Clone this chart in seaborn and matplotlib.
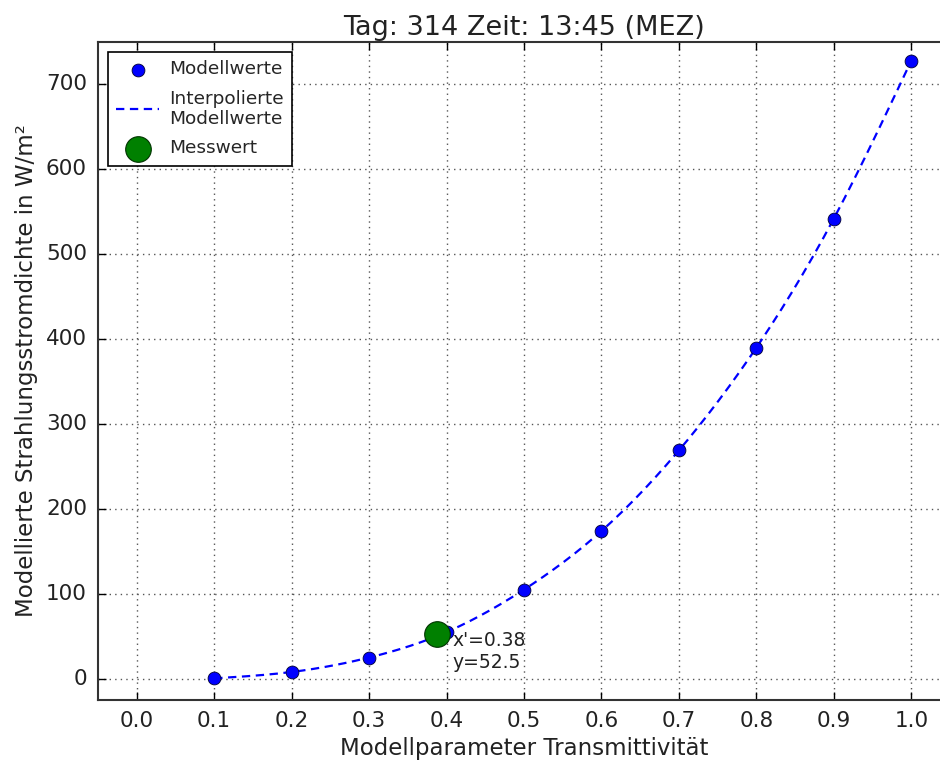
import numpy as np
import pandas as pd
import matplotlib
matplotlib.use("Agg")
import matplotlib.pyplot as plt
import seaborn as sns

# Data
transmittivity = [0.1, 0.2, 0.3, 0.4, 0.5, 0.6, 0.7, 0.8, 0.9, 1.0]
irradiance = [0.5, 8, 25, 55, 105, 174, 269, 390, 542, 728]
meas_x = [0.3875]
meas_y = [52.5]
annot_text = "x'=0.38\ny=52.5"
title = "Tag: 314 Zeit: 13:45 (MEZ)"
xlabel = "Modellparameter Transmittivität"
ylabel = "Modellierte Strahlungsstromdichte in W/m²"
xticks = [0.0, 0.1, 0.2, 0.3, 0.4, 0.5, 0.6, 0.7, 0.8, 0.9, 1.0]
yticks = [0, 100, 200, 300, 400, 500, 600, 700]


def natural_cubic_spline(x, y, xs):
    x = np.asarray(x, float); y = np.asarray(y, float)
    n = len(x)
    h = np.diff(x)
    A = np.zeros((n, n)); b = np.zeros(n)
    A[0, 0] = 1; A[-1, -1] = 1
    for i in range(1, n - 1):
        A[i, i - 1] = h[i - 1]
        A[i, i] = 2 * (h[i - 1] + h[i])
        A[i, i + 1] = h[i]
        b[i] = 3 * ((y[i + 1] - y[i]) / h[i] - (y[i] - y[i - 1]) / h[i - 1])
    c = np.linalg.solve(A, b)
    bb = np.zeros(n - 1); d = np.zeros(n - 1)
    for i in range(n - 1):
        bb[i] = (y[i + 1] - y[i]) / h[i] - h[i] * (2 * c[i] + c[i + 1]) / 3
        d[i] = (c[i + 1] - c[i]) / (3 * h[i])
    idx = np.clip(np.searchsorted(x, xs) - 1, 0, n - 2)
    dx = xs - x[idx]
    return y[idx] + bb[idx] * dx + c[idx] * dx ** 2 + d[idx] * dx ** 3


plt.style.use("classic")
sns.set_style("ticks", {"xtick.direction": "in", "ytick.direction": "in"})
plt.rcParams["font.family"] = ["DejaVu Sans"]

fig = plt.figure(figsize=(9.4, 7.65), dpi=100)
ax = fig.add_axes([98 / 940, 65 / 765, 852 / 940, 658 / 765])

xs = np.linspace(transmittivity[0], transmittivity[-1], 200)
ys = natural_cubic_spline(transmittivity, irradiance, xs)
df_pts = pd.DataFrame({"x": transmittivity, "y": irradiance})
df_line = pd.DataFrame({"x": xs, "y": ys})
df_meas = pd.DataFrame({"x": meas_x, "y": meas_y})

sns.scatterplot(data=df_pts, x="x", y="y", ax=ax, color="blue", s=85,
                edgecolor="#000033", linewidth=0.6, label="Modellwerte", zorder=3)
sns.lineplot(data=df_line, x="x", y="y", ax=ax, color="blue", linestyle="--",
             dashes=False, linewidth=1.6, label="Interpolierte\nModellwerte", zorder=2)
ax.lines[-1].set_dashes([6, 4])
sns.scatterplot(data=df_meas, x="x", y="y", ax=ax, color="green", s=340,
                edgecolor="#003300", linewidth=0.8, label="Messwert", zorder=4)

ax.annotate(annot_text, xy=(meas_x[0], meas_y[0]), xytext=(11, 2),
            textcoords="offset points", va="top", ha="left", fontsize=13.5,
            color="#222222", linespacing=1.2)

ax.set_xlim(-0.05, 1.05)
ax.set_ylim(-25, 750)
ax.set_xticks(xticks)
ax.set_yticks(yticks)
ax.set_xticklabels([f"{t:.1f}" for t in xticks])
ax.tick_params(direction="in", top=True, right=True, labelsize=15.5,
               length=6, width=1, colors="black", labelcolor="#222222", pad=8)
ax.grid(True, linestyle=":", color="#555555", linewidth=1)
for s in ax.spines.values():
    s.set_visible(True)
    s.set_color("#333333")
    s.set_linewidth(1.5)

ax.set_title(title, fontsize=19.5, color="#222222", pad=5)
ax.set_xlabel(xlabel, fontsize=16.5, color="#222222", labelpad=4)
ax.set_ylabel(ylabel, fontsize=16.5, color="#222222", labelpad=6)

leg = ax.legend(loc="upper left", fontsize=13.3, numpoints=1, scatterpoints=1,
                frameon=True, fancybox=False, borderaxespad=0.55,
                handlelength=2.3, labelspacing=0.6, handletextpad=0.55,
                borderpad=0.45)
leg.get_frame().set_edgecolor("black")
leg.get_frame().set_linewidth(1.2)

fig.savefig("out.png", dpi=100)
